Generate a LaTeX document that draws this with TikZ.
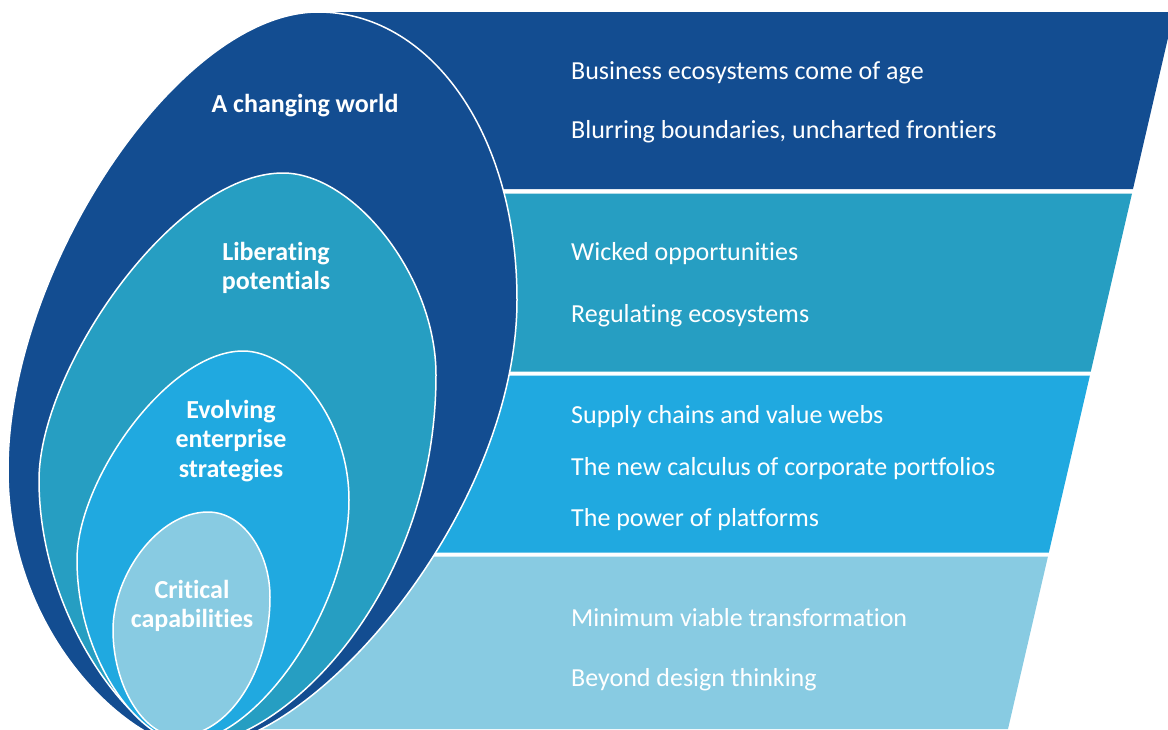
\documentclass[tikz,border=0pt]{standalone}
\usepackage{fontspec}
\setmainfont{Carlito}[Ligatures=NoCommon]
\definecolor{cdark}{RGB}{19,77,145}
\definecolor{cteal}{RGB}{38,158,194}
\definecolor{cbright}{RGB}{32,169,224}
\definecolor{clight}{RGB}{136,203,226}
\tikzset{
  egg/.style={draw=white, line width=1.5pt},
  item/.style={text=white, anchor=base west, inner sep=0pt, font=\fontsize{26}{30}\selectfont},
  ring/.style={text=white, align=center, inner sep=0pt, font=\bfseries\fontsize{26}{29.5}\selectfont}
}
\begin{document}
\begin{tikzpicture}[x=1pt,y=-1pt]
\useasboundingbox (0,0) rectangle (1168,729);
\clip (0,0) rectangle (1168,729);
% bands
\fill[cdark]   (320,12) -- (1174,12) -- (1133,189) -- (320,189) -- cycle;
\fill[cteal]   (300,193.5) -- (1132,193.5) -- (1090.8,371.5) -- (300,371.5) -- cycle;
\fill[cbright] (200,375.5) -- (1089.9,375.5) -- (1048.8,552.7) -- (200,552.7) -- cycle;
\fill[clight]  (200,556.7) -- (1047.9,556.7) -- (1008,729) -- (200,729) -- cycle;
% nested shapes
\filldraw[egg, fill=cdark] (318,12) .. controls (428,12) and (517,130) .. (517,300)
  .. controls (517,510) and (315,748) .. (195,748)
  .. controls (135,748) and (8,640) .. (8,470)
  .. controls (8,270) and (178,12) .. cycle;
\filldraw[egg, fill=cteal] (283,173) .. controls (353,173) and (436,275) .. (436,375)
  .. controls (436,595) and (282,745) .. (192,745)
  .. controls (137,745) and (39,620) .. (39,480)
  .. controls (39,370) and (173,173) .. cycle;
\filldraw[egg, fill=cbright] (243,351) .. controls (293,351) and (349,420) .. (349,500)
  .. controls (349,610) and (255,742) .. (185,742)
  .. controls (140,742) and (77,660) .. (77,560)
  .. controls (77,480) and (168,351) .. cycle;
\filldraw[egg, fill=clight] (208,512) .. controls (243,512) and (270,552) .. (270,597)
  .. controls (270,672) and (228,736) .. (178,736)
  .. controls (143,736) and (113,685) .. (113,630)
  .. controls (113,575) and (158,512) .. cycle;
% left labels
\node[ring] (l1) at (305,106) {A changing world};
\node[ring] (l2) at (276,268) {Liberating\\potentials};
\node[ring] (l3) at (231,441) {Evolving\\enterprise\\strategies};
\node[ring] (l4) at (192,606) {Critical\\capabilities};
% right items
\node[item] (t1) at (571,79)  {Business ecosystems come of age};
\node[item] (t2) at (571,138) {Blurring boundaries, uncharted frontiers};
\node[item] (t3) at (571,260) {Wicked opportunities};
\node[item] (t4) at (571,322) {Regulating ecosystems};
\node[item] (t5) at (571,423) {Supply chains and value webs};
\node[item] (t6) at (571,475) {The new calculus of corporate portfolios};
\node[item] (t7) at (571,526) {The power of platforms};
\node[item] (t8) at (571,626) {Minimum viable transformation};
\node[item] (t9) at (571,686) {Beyond design thinking};
\end{tikzpicture}
\end{document}
